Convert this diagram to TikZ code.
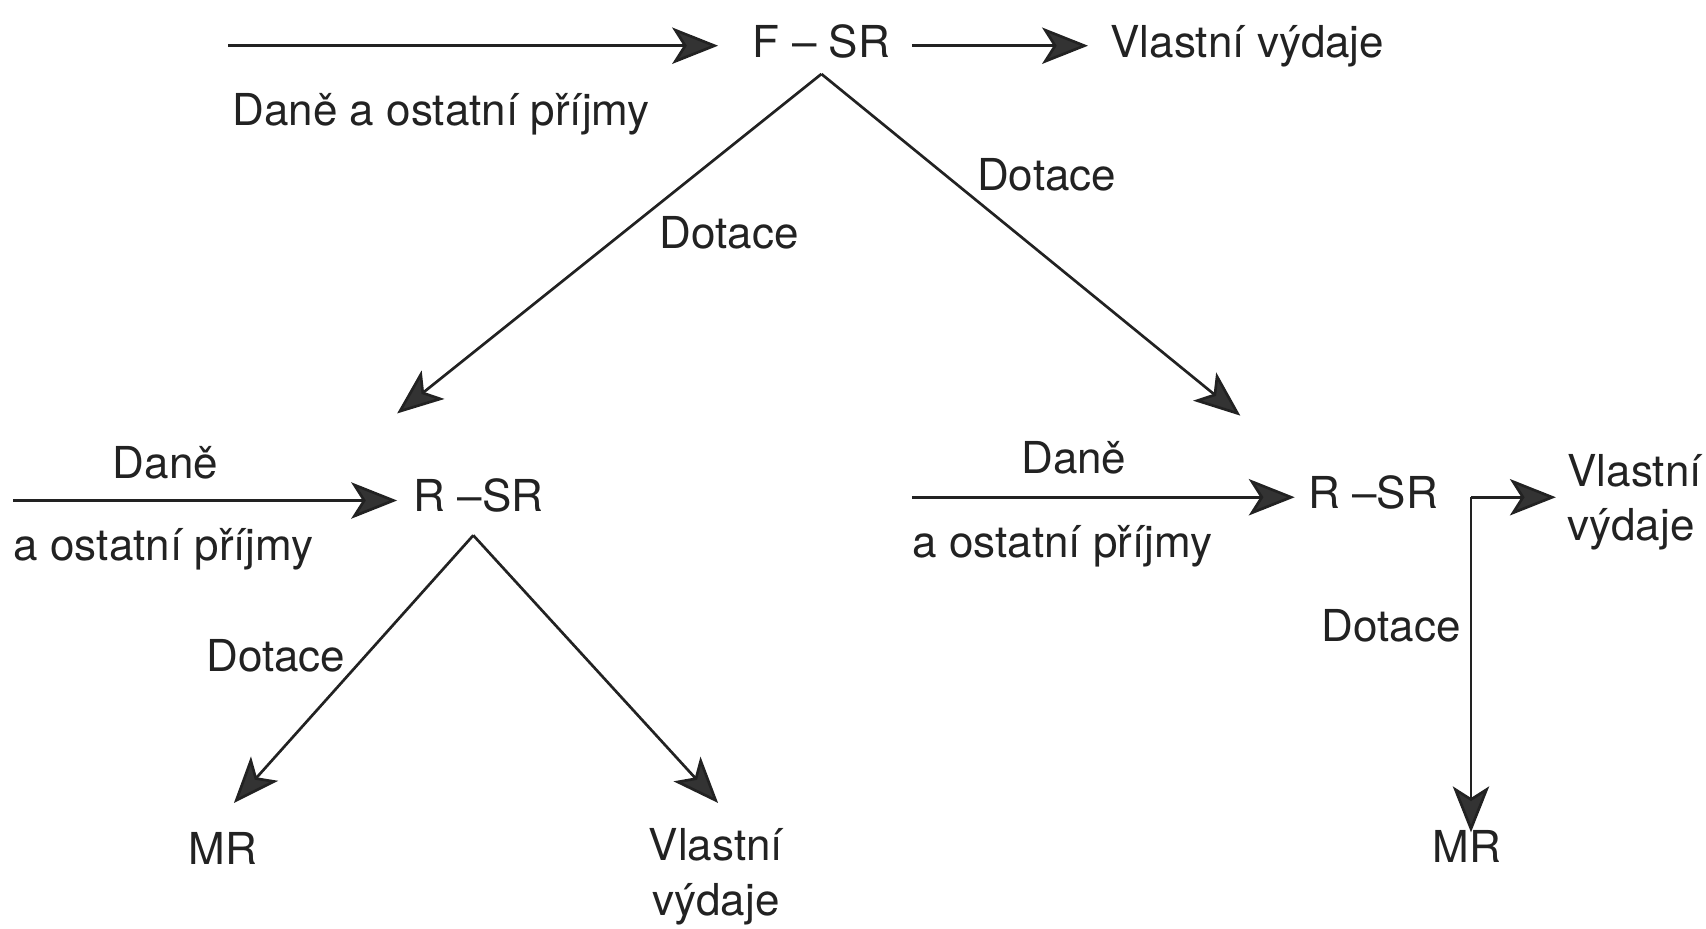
\documentclass[tikz,border=0pt]{standalone}
\usepackage{fontspec}
\setmainfont{TeX Gyre Heros}
\usetikzlibrary{arrows.meta}
\definecolor{ink}{HTML}{222222}
\definecolor{headfill}{HTML}{333333}
\begin{document}
\begin{tikzpicture}[x=0.01cm,y=-0.01cm,
  lbl/.style={inner sep=0pt,text=ink,font=\fontsize{11.5}{14.2}\selectfont},
  arr/.style={draw=ink,line width=0.7pt,-{Stealth[length=12pt,width=9.5pt,inset=3pt,fill=headfill]}}]
\useasboundingbox (0,0) rectangle (1568,853);
% texts
\node[lbl,anchor=base] (fsr) at (755,53) {F – SR};
\node[lbl,anchor=base west] (vv1) at (1020,53) {Vlastní výdaje};
\node[lbl,anchor=base west] (dp1) at (213,115) {Daně a ostatní příjmy};
\node[lbl,anchor=base] (dl) at (670,228) {Dotace};
\node[lbl,anchor=base] (dr) at (962,175) {Dotace};
\node[lbl,anchor=base] (rsr1) at (440,470) {R –SR};
\node[lbl,anchor=base] (dn1) at (152,440) {Daně};
\node[lbl,anchor=base west] (ap1) at (12,515) {a ostatní příjmy};
\node[lbl,anchor=base east] (d1) at (318,617) {Dotace};
\node[lbl,anchor=base] (mr1) at (205,795) {MR};
\node[lbl,anchor=base,align=center] (vv2) at (658,841) {Vlastní\\výdaje};
\node[lbl,anchor=base] (dn2) at (987,435) {Daně};
\node[lbl,anchor=base west] (ap2) at (838,512) {a ostatní příjmy};
\node[lbl,anchor=base] (rsr2) at (1262,467) {R –SR};
\node[lbl,anchor=base east] (d2) at (1343,590) {Dotace};
\node[lbl,anchor=base] (mr2) at (1348,793) {MR};
\node[lbl,anchor=base west,align=left] (vv3) at (1440,497) {Vlastní\\výdaje};
% connector points
\coordinate (inF) at (210,42);
\coordinate (tipF) at (660,42);
\coordinate (outF) at (838,42);
\coordinate (tipV1) at (1000,42);
\coordinate (apF) at (755,68);
\coordinate (tipL) at (365,380);
\coordinate (tipR) at (1140,382);
\coordinate (in1) at (12,460);
\coordinate (tip1) at (365,460);
\coordinate (ap1x) at (435,492);
\coordinate (tipMR1) at (215,738);
\coordinate (tipV2) at (660,738);
\coordinate (in2) at (838,457);
\coordinate (tip2) at (1190,457);
\coordinate (corner) at (1352,457);
\coordinate (tipV3) at (1430,457);
\coordinate (tipMR2) at (1352,765);
% connectors
\draw[arr] (inF) -- (tipF);
\draw[arr] (outF) -- (tipV1);
\draw[arr] (apF) -- (tipL);
\draw[arr] (apF) -- (tipR);
\draw[arr] (in1) -- (tip1);
\draw[arr] (ap1x) -- (tipMR1);
\draw[arr] (ap1x) -- (tipV2);
\draw[arr] (in2) -- (tip2);
\draw[arr] (corner) -- (tipV3);
\draw[arr] (corner) -- (tipMR2);
\end{tikzpicture}
\end{document}
